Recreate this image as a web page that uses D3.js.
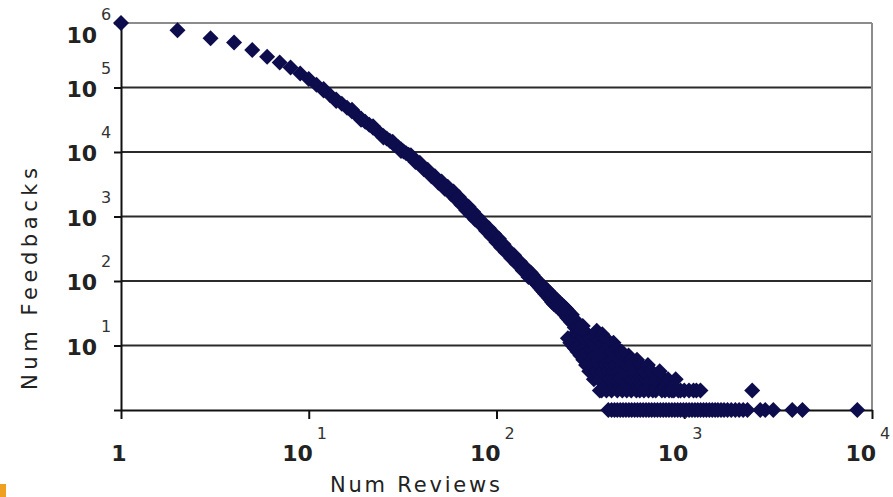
<!DOCTYPE html>
<html>
<head>
<meta charset="utf-8">
<title>Num Feedbacks vs Num Reviews</title>
<script src="https://d3js.org/d3.v7.min.js"></script>
<style>
  body { margin: 0; background: #fff; }
  text { font-family: "DejaVu Sans", Verdana, sans-serif; }
</style>
</head>
<body>
<div id="chart"></div>
<script>
// [num reviews, num feedbacks]
// smooth upper part of the curve
var headPoints = [
  [1, 1000000], [2, 770000], [3, 580000], [4, 500000], [5, 380000], [6, 300000],
  [7, 245000], [8, 205000], [9, 165000], [10, 135000], [11, 110000], [12, 90000],
  [13, 76000], [14, 65000], [15, 56000], [16, 48500], [17, 42500], [18, 37500],
  [19, 33000], [20, 29500], [21, 26500], [22, 23800], [23, 21500], [24, 19400],
  [25, 17700], [26, 16200], [27, 14900], [28, 13700], [29, 12700], [30, 11800],
  [31, 11000], [32, 10200], [33, 9600], [34, 9100], [36, 7900], [38, 6900],
  [40, 6050], [42, 5300], [44, 4700], [46, 4200], [48, 3750], [50, 3400],
  [52, 3050], [54, 2770], [56, 2520], [58, 2300], [60, 2100], [62, 1930],
  [64, 1750], [66, 1590], [68, 1450], [70, 1330], [72, 1215], [74, 1120],
  [76, 1030], [78, 950], [80, 880], [83, 780], [86, 700], [89, 630],
  [92, 570], [95, 515], [98, 470], [101, 425], [104, 390], [107, 355],
  [110, 325], [114, 290], [118, 265], [122, 237], [126, 214], [130, 195],
  [135, 173], [140, 155], [145, 139], [150, 125]
];

// points sitting a little off the centre of the band
var headSpread = [
  [12, 95000], [14, 62000], [17, 45000], [19, 31500], [22, 25000], [25, 16800],
  [28, 14400], [31, 10400], [35, 8900], [37, 7000], [39, 6800], [41, 5400],
  [43, 5300], [45, 4200], [47, 4200], [49, 3350], [51, 3500], [53, 2700],
  [55, 2900], [57, 2250], [59, 2450], [61, 1850], [63, 2000], [65, 1520],
  [67, 1650], [69, 1250], [71, 1420], [73, 1060], [75, 1190], [77, 900],
  [79, 1000], [82, 760], [85, 800], [88, 600], [91, 660], [94, 490],
  [97, 540], [100, 400], [103, 450], [106, 330], [109, 370], [112, 280],
  [116, 300], [120, 225], [124, 250], [128, 185], [133, 200], [138, 145],
  [143, 160], [148, 115]
];

// noisier middle part
var bodyPoints = [
  [152, 135], [154, 110], [156, 124], [158, 100], [160, 112], [162, 94],
  [164, 104], [166, 86], [168, 96], [170, 79], [172, 90], [174, 73],
  [176, 84], [178, 68], [180, 79], [182, 63], [184, 74], [186, 59],
  [188, 70], [190, 55], [192, 65], [194, 51], [196, 61], [198, 47],
  [200, 58], [202, 44], [205, 54], [208, 41], [211, 50], [214, 38],
  [217, 46], [220, 35], [223, 43], [226, 33], [229, 40], [232, 30],
  [235, 37], [238, 27], [241, 34], [244, 25], [247, 31], [250, 23]
];

// low counts (2 and more), scattered tail
var tailPoints = [
  [240, 13], [247, 11], [254, 10], [262, 9], [270, 8], [280, 7], [290, 6],
  [300, 5], [312, 4], [330, 3], [355, 2],
  [252, 30], [255, 22], [258, 26], [261, 19], [264, 24], [267, 16], [270, 21],
  [273, 14], [276, 19], [279, 12], [282, 17], [285, 11], [288, 20], [291, 13],
  [294, 9], [297, 16], [300, 12], [303, 8], [306, 15], [309, 10], [312, 7],
  [315, 13], [318, 9], [321, 6], [324, 11], [327, 8], [330, 5], [333, 14],
  [336, 7], [339, 4], [342, 17], [345, 10], [348, 6], [351, 3], [354, 12],
  [357, 8], [360, 5], [363, 2],
  [366, 4], [370, 6], [375, 3], [380, 5], [385, 2], [390, 7], [395, 4],
  [400, 3], [405, 5], [410, 2], [415, 6], [420, 4], [425, 3], [432, 5],
  [440, 2], [446, 4], [452, 3], [460, 5], [468, 2], [476, 4], [485, 3],
  [494, 2], [503, 4], [512, 3], [522, 2], [533, 3], [545, 4], [556, 2],
  [568, 3], [580, 2], [595, 3], [610, 2], [625, 3], [645, 2], [660, 3],
  [680, 2], [705, 2], [730, 3], [760, 2], [790, 2], [830, 2], [880, 2], [930, 2],
  [366, 15], [372, 11], [378, 13], [385, 9], [392, 12], [400, 10], [410, 8],
  [420, 11], [430, 7], [440, 9], [452, 6], [465, 8], [478, 7], [492, 5],
  [505, 7], [520, 6], [540, 5], [560, 6], [586, 5], [610, 4], [640, 5],
  [670, 4], [700, 3], [740, 4], [780, 3], [820, 3], [860, 2], [900, 3],
  [955, 2], [1000, 2], [1060, 2], [1120, 2], [1160, 2], [1220, 2], [2300, 2]
];

// reviews where the count is exactly one feedback
var oneReviews = [
  394, 410, 425, 440, 456, 472, 489, 507, 525, 544, 563, 583, 604, 626, 648,
  671, 695, 720, 746, 773, 800, 829, 859, 890, 922, 955, 989, 1025, 1062,
  1100, 1140, 1180, 1222, 1266, 1312, 1360, 1410, 1460, 1510, 1570, 1630,
  1700, 1780, 1870, 1960, 2060, 2170, 2540, 2700, 2980, 3760, 4260, 8350
];

var xTicks = [1, 10, 100, 1000, 10000];
var yTicks = [1, 10, 100, 1000, 10000, 100000, 1000000];
var xTitle = "Num Reviews";
var yTitle = "Num Feedbacks";

var allPoints = headPoints.concat(headSpread, bodyPoints, tailPoints,
  oneReviews.map(function(r) { return [r, 1]; }));

// dimensions
var margin = {top: 23, right: 21, bottom: 87, left: 121},
    width = 893 - margin.left - margin.right,
    height = 497 - margin.top - margin.bottom;

var root = d3.select("#chart")
  .append("svg")
    .attr("width", 893)
    .attr("height", 497);

var svg = root.append("g")
    .attr("transform", "translate(" + margin.left + "," + margin.top + ")");

var x = d3.scaleLog().domain([1, 10000]).range([0, width]);
var y = d3.scaleLog().domain([1, 1000000]).range([height, 0]);

// gridlines
svg.selectAll(".grid")
  .data(yTicks.filter(function(v) { return v > 1 && v < 1000000; }))
  .enter().append("line")
    .attr("x1", 0).attr("x2", width)
    .attr("y1", function(d) { return y(d); })
    .attr("y2", function(d) { return y(d); })
    .attr("stroke", "#2b2b2b")
    .attr("stroke-width", 2);

// plot frame (top and right)
svg.append("line")
  .attr("x1", 0).attr("x2", width).attr("y1", y(1000000)).attr("y2", y(1000000))
  .attr("stroke", "#8c8c8c").attr("stroke-width", 2);
svg.append("line")
  .attr("x1", width).attr("x2", width).attr("y1", 0).attr("y2", height)
  .attr("stroke", "#8c8c8c").attr("stroke-width", 2);

// axes
var yAxis = svg.append("g")
  .call(d3.axisLeft(y).tickValues(yTicks).tickSize(7).tickSizeOuter(0).tickFormat(""));
var xAxis = svg.append("g")
  .attr("transform", "translate(0," + height + ")")
  .call(d3.axisBottom(x).tickValues(xTicks).tickSize(9).tickSizeOuter(0).tickFormat(""));
[xAxis, yAxis].forEach(function(a) {
  a.selectAll("path, line").attr("stroke", "#111").attr("stroke-width", 2);
});

// y labels 10^n
var yLab = svg.selectAll(".ylab")
  .data(yTicks.filter(function(v) { return v > 1; }))
  .enter().append("g")
    .attr("transform", function(d) {
      return "translate(0," + Math.max(y(d), 11) + ")";
    });
yLab.append("text")
  .attr("x", -24).attr("y", 9)
  .attr("text-anchor", "end")
  .attr("font-size", 22).attr("font-weight", "bold")
  .attr("fill", "#222")
  .text("10");
yLab.append("text")
  .attr("x", -20).attr("y", -14)
  .attr("font-size", 16)
  .attr("fill", "#333")
  .text(function(d) { return Math.round(Math.log10(d)); });

// x labels
var xLab = svg.selectAll(".xlab")
  .data(xTicks)
  .enter().append("g")
    .attr("transform", function(d) { return "translate(" + x(d) + "," + height + ")"; });
xLab.append("text")
  .attr("x", function(d) { return d === 1 ? -2 : 4; })
  .attr("y", 51)
  .attr("text-anchor", function(d) { return d === 1 ? "middle" : "end"; })
  .attr("font-size", 22).attr("font-weight", "bold")
  .attr("fill", "#222")
  .text(function(d) { return d === 1 ? "1" : "10"; });
xLab.filter(function(d) { return d > 1; }).append("text")
  .attr("x", 8).attr("y", 29)
  .attr("font-size", 16)
  .attr("fill", "#333")
  .text(function(d) { return Math.round(Math.log10(d)); });

// axis titles
root.append("text")
  .attr("x", 330).attr("y", 492)
  .attr("font-size", 21)
  .attr("fill", "#222")
  .attr("textLength", 170).attr("lengthAdjust", "spacing")
  .text(xTitle);
root.append("text")
  .attr("transform", "translate(37,390) rotate(-90)")
  .attr("font-size", 21)
  .attr("fill", "#222")
  .attr("textLength", 222).attr("lengthAdjust", "spacing")
  .text(yTitle);

// diamond markers
var diamond = d3.symbol().type(d3.symbolSquare).size(128);
svg.selectAll(".pt")
  .data(allPoints)
  .enter().append("path")
    .attr("d", diamond)
    .attr("transform", function(d) {
      return "translate(" + x(d[0]) + "," + y(d[1]) + ") rotate(45)";
    })
    .attr("fill", "#0d0d4e");

// small orange bullet at the lower left corner
root.append("rect")
  .attr("x", 0).attr("y", 484).attr("width", 6).attr("height", 13)
  .attr("fill", "#f0a020");
</script>
</body>
</html>
